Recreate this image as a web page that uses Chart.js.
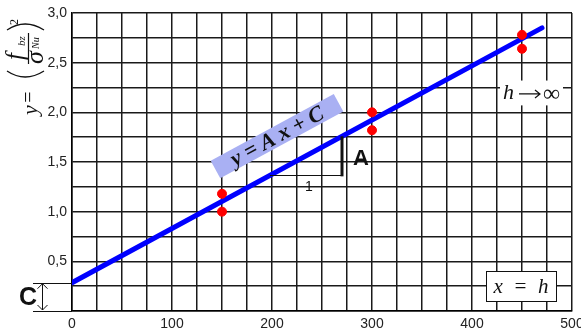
<!DOCTYPE html>
<html>
<head>
<meta charset="utf-8">
<script src="https://cdn.jsdelivr.net/npm/chart.js@4.4.0/dist/chart.umd.min.js"></script>
<style>
  html, body { margin: 0; padding: 0; background: #fff; }
  #wrap { width: 581px; height: 333px; position: relative; }
</style>
</head>
<body>
<div id="wrap"><canvas id="chart"></canvas></div>
<script>
// fitted line y = A x + C
const lineX = [0, 470];
const lineY = [0.285, 2.85];
// measured points
const pointX = [150, 150, 300, 300, 450, 450];
const pointY = [1.18, 1.0, 2.0, 1.82, 2.78, 2.64];
// axis ticks
const xTickLabels = [0, 100, 200, 300, 400, 500];
const yTickLabels = [0.5, 1.0, 1.5, 2.0, 2.5, 3.0];

const C = lineY[0];
const A = (lineY[1] - lineY[0]) / (lineX[1] - lineX[0]);

const serif = '"Liberation Serif", "DejaVu Serif", serif';
const sans = '"Liberation Sans", Arial, sans-serif';

function near(v, list) {
  return list.some(t => Math.abs(t - v) < 1e-6);
}

const annotations = {
  id: 'annotations',
  beforeDatasetsDraw(chart) {
    const ctx = chart.ctx;
    const xs = chart.scales.x, ys = chart.scales.y;
    ctx.save();
    // "h -> inf" label (white patch over grid)
    const x1 = xs.getPixelForValue(428), x2 = xs.getPixelForValue(491);
    const y1 = ys.getPixelForValue(2.32), y2 = ys.getPixelForValue(2.07);
    const ym = (y1 + y2) / 2;
    ctx.fillStyle = '#fff';
    ctx.fillRect(x1, y1, x2 - x1, y2 - y1);
    ctx.fillStyle = '#111';
    ctx.strokeStyle = '#111';
    ctx.textBaseline = 'middle';
    ctx.font = 'italic 22px ' + serif;
    ctx.fillText('h', x1 + 3, ym);
    // arrow
    ctx.lineWidth = 1.2;
    ctx.beginPath();
    ctx.moveTo(x1 + 19, ym + 1); ctx.lineTo(x1 + 40, ym + 1);
    ctx.moveTo(x1 + 35, ym - 3); ctx.lineTo(x1 + 40, ym + 1); ctx.lineTo(x1 + 35, ym + 5);
    ctx.stroke();
    ctx.font = '24px ' + serif;
    ctx.fillText('\u221E', x1 + 43, ym + 2);
    // "x = h" box
    const bx1 = xs.getPixelForValue(414), bx2 = xs.getPixelForValue(484);
    const by1 = ys.getPixelForValue(0.40), by2 = ys.getPixelForValue(0.10);
    ctx.fillStyle = '#fff';
    ctx.fillRect(bx1, by1, bx2 - bx1, by2 - by1);
    ctx.lineWidth = 1;
    ctx.strokeRect(Math.round(bx1) + 0.5, Math.round(by1) + 0.5, Math.round(bx2 - bx1), Math.round(by2 - by1));
    ctx.fillStyle = '#111';
    ctx.font = 'italic 21px ' + serif;
    ctx.textAlign = 'center';
    ctx.fillText('x  =  h', (bx1 + bx2) / 2, (by1 + by2) / 2 + 1);
    ctx.restore();
  },
  afterDraw(chart) {
    const ctx = chart.ctx;
    const xs = chart.scales.x, ys = chart.scales.y;
    ctx.save();

    // rotated equation label
    const pxSlope = (ys.getPixelForValue(C + A * 100) - ys.getPixelForValue(C)) /
                    (xs.getPixelForValue(100) - xs.getPixelForValue(0));
    const ang = Math.atan(pxSlope);
    ctx.save();
    ctx.translate(xs.getPixelForValue(205), ys.getPixelForValue(1.76));
    ctx.rotate(ang);
    ctx.fillStyle = '#a9b0f3';
    ctx.fillRect(-70, -10, 140, 20);
    ctx.fillStyle = '#111';
    ctx.textAlign = 'center';
    ctx.textBaseline = 'middle';
    ctx.font = 'italic bold 22px ' + serif;
    ctx.fillText('y = A x + C', 0, 1);
    ctx.restore();

    // slope triangle
    const tx0 = xs.getPixelForValue(198), tx1 = xs.getPixelForValue(270);
    const ty0 = ys.getPixelForValue(C + A * 198), ty1 = ys.getPixelForValue(C + A * 270);
    ctx.strokeStyle = '#111';
    ctx.lineWidth = 1;
    ctx.beginPath();
    ctx.moveTo(tx0, Math.round(ty0) + 0.5);
    ctx.lineTo(tx1, Math.round(ty0) + 0.5);
    ctx.stroke();
    ctx.lineWidth = 3;
    ctx.beginPath();
    ctx.moveTo(tx1, ty0 + 1);
    ctx.lineTo(tx1, ty1);
    ctx.stroke();
    ctx.fillStyle = '#111';
    ctx.textAlign = 'center';
    ctx.textBaseline = 'middle';
    ctx.font = '14px ' + sans;
    ctx.fillText('1', (tx0 + tx1) / 2 + 3, ty0 + 12);
    ctx.font = 'bold 22px ' + sans;
    ctx.fillText('A', tx1 + 19, (ty0 + ty1) / 2 + 3);

    // C bracket left of axis
    const y0 = ys.getPixelForValue(0), yc = ys.getPixelForValue(C);
    const left = chart.chartArea.left;
    ctx.lineWidth = 1;
    ctx.beginPath();
    ctx.moveTo(33, Math.round(yc) + 0.5); ctx.lineTo(left, Math.round(yc) + 0.5);
    ctx.moveTo(33, Math.round(y0) + 0.5); ctx.lineTo(left, Math.round(y0) + 0.5);
    const ax = 42.5;
    ctx.moveTo(ax, yc + 1); ctx.lineTo(ax, y0 - 1);
    ctx.moveTo(ax - 5, yc + 6); ctx.lineTo(ax, yc + 1); ctx.lineTo(ax + 5, yc + 6);
    ctx.moveTo(ax - 5, y0 - 6); ctx.lineTo(ax, y0 - 1); ctx.lineTo(ax + 5, y0 - 6);
    ctx.stroke();
    ctx.font = 'bold 25px ' + sans;
    ctx.fillText('C', 28, (yc + y0) / 2 + 1);

    // y-axis title: y = (f_bz / sigma_Nu)^2, rotated
    ctx.save();
    ctx.translate(28, 70);
    ctx.rotate(-Math.PI / 2);
    ctx.fillStyle = '#111';
    ctx.strokeStyle = '#111';
    ctx.textBaseline = 'alphabetic';
    ctx.textAlign = 'center';
    ctx.font = 'italic 22px ' + serif;
    ctx.fillText('y', -40, 9);
    ctx.font = '20px ' + serif;
    ctx.fillText('=', -27, 7);
    // parentheses as thin arcs
    ctx.lineWidth = 1.3;
    ctx.beginPath();
    ctx.moveTo(-1, -21);
    ctx.quadraticCurveTo(-13, -3, -1, 16);
    ctx.moveTo(40, -21);
    ctx.quadraticCurveTo(52, -3, 40, 16);
    ctx.stroke();
    // fraction
    ctx.lineWidth = 1.2;
    ctx.beginPath();
    ctx.moveTo(6, 0.5); ctx.lineTo(37, 0.5);
    ctx.stroke();
    ctx.textAlign = 'left';
    ctx.font = 'italic 25px ' + serif;
    ctx.fillText('f', 10, -5);
    ctx.font = 'italic 11px ' + serif;
    ctx.fillText('bz', 24, -3);
    ctx.font = 'italic 26px ' + serif;
    ctx.fillText('\u03C3', 6, 15);
    ctx.font = 'italic 10px ' + serif;
    ctx.fillText('Nu', 21, 11);
    ctx.font = '12px ' + serif;
    ctx.fillText('2', 45, -10);
    ctx.restore();

    ctx.restore();
  }
};

new Chart(document.getElementById('chart'), {
  type: 'scatter',
  data: {
    datasets: [
      {
        data: lineX.map((x, i) => ({ x: x, y: lineY[i] })),
        showLine: true,
        borderColor: '#0000ff',
        borderWidth: 5,
        borderCapStyle: 'round',
        pointRadius: 0,
        order: 2
      },
      {
        data: pointX.map((x, i) => ({ x: x, y: pointY[i] })),
        backgroundColor: '#ff0000',
        borderColor: '#ff0000',
        pointRadius: 4.5,
        order: 1
      }
    ]
  },
  options: {
    responsive: true,
    maintainAspectRatio: false,
    animation: false,
    layout: { padding: { left: 0, right: 9, top: 13, bottom: 0 } },
    plugins: { legend: { display: false }, tooltip: { enabled: false } },
    scales: {
      x: {
        type: 'linear',
        min: 0,
        max: 500,
        afterFit(scale) {
          scale.height = 22;
          scale.paddingLeft = 0;
          scale.paddingRight = 0;
        },
        grid: { color: '#1a1a1a', lineWidth: 1.5, drawTicks: false },
        border: { color: '#000', width: 1.5 },
        ticks: {
          stepSize: 25,
          autoSkip: false,
          maxRotation: 0,
          padding: 5,
          color: '#222',
          font: { family: sans, size: 14 },
          callback: v => near(v, xTickLabels) ? String(v) : ''
        }
      },
      y: {
        type: 'linear',
        min: 0,
        max: 3,
        afterFit(scale) {
          scale.width = 72;
          scale.paddingTop = 0;
          scale.paddingBottom = 0;
        },
        grid: { color: '#1a1a1a', lineWidth: 1.5, drawTicks: false },
        border: { color: '#000', width: 1.5 },
        ticks: {
          stepSize: 0.25,
          autoSkip: false,
          padding: 5,
          color: '#222',
          font: { family: sans, size: 14 },
          callback: v => near(v, yTickLabels) ? v.toFixed(1).replace('.', ',') : ''
        }
      }
    }
  },
  plugins: [annotations]
});
</script>
</body>
</html>
